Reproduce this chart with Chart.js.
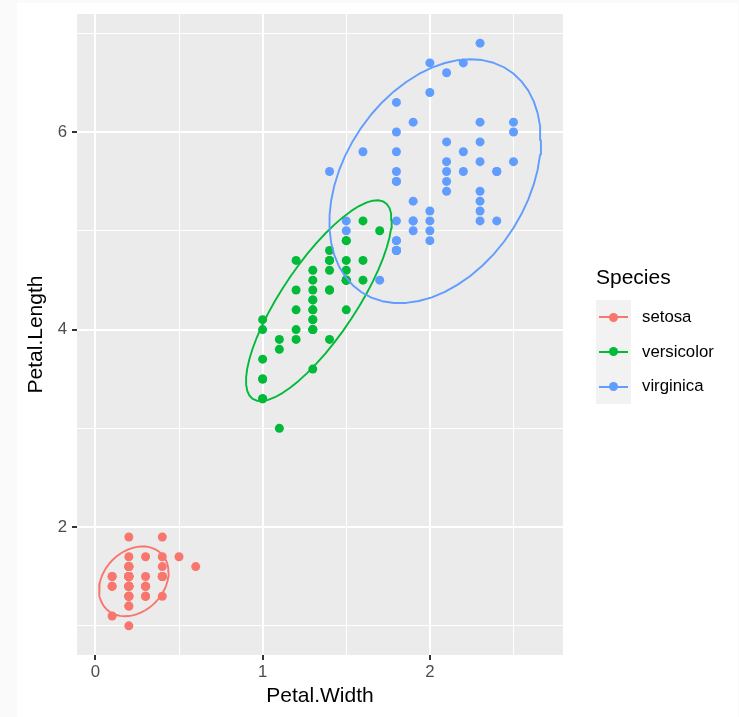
<!DOCTYPE html>
<html>
<head>
<meta charset="utf-8">
<title>Petal.Length vs Petal.Width</title>
<script src="https://cdn.jsdelivr.net/npm/chart.js@4/dist/chart.umd.min.js"></script>
<style>
  html, body { margin: 0; padding: 0; background: #fafafa; width: 739px; height: 717px; overflow: hidden; }
  body { font-family: "Liberation Sans", Arial, sans-serif; }
  #frame { position: absolute; left: 17px; top: 3px; width: 721px; height: 714px; background: #ffffff; }
  #plot { position: absolute; left: 0; top: 0; }
  .ltitle { position: absolute; left: 579px; top: 263px; font-size: 21px; line-height: 21px; color: #000; white-space: nowrap; }
  .keybg { position: absolute; left: 579px; top: 297px; width: 35px; height: 104px; background: #f2f2f2; }
  .row { position: absolute; left: 579px; width: 140px; height: 34.67px; }
  .kline { position: absolute; left: 3px; width: 29px; height: 2px; top: 16.3px; }
  .kdot { position: absolute; left: 13px; top: 12.8px; width: 9px; height: 9px; border-radius: 50%; }
  .klabel { position: absolute; left: 46px; top: 0; line-height: 34.67px; font-size: 16.8px; color: #000; white-space: nowrap; }
</style>
</head>
<body>
<div id="frame">
  <canvas id="plot" width="721" height="714"></canvas>
  <div id="legend"></div>
</div>
<script>
// Species names and their hue colours
const species = ['setosa', 'versicolor', 'virginica'];
const speciesColors = ['#F8766D', '#00BA38', '#619CFF'];

// Petal measurements (cm) for each species
const setosaWidth = [0.2,0.2,0.2,0.2,0.2,0.4,0.3,0.2,0.2,0.1,0.2,0.2,0.1,0.1,0.2,0.4,0.4,0.3,0.3,0.3,0.2,0.4,0.2,0.5,0.2,0.2,0.4,0.2,0.2,0.2,0.2,0.4,0.1,0.2,0.2,0.2,0.2,0.1,0.2,0.2,0.3,0.3,0.2,0.6,0.4,0.3,0.2,0.2,0.2,0.2];
const setosaLength = [1.4,1.4,1.3,1.5,1.4,1.7,1.4,1.5,1.4,1.5,1.5,1.6,1.4,1.1,1.2,1.5,1.3,1.4,1.7,1.5,1.7,1.5,1.0,1.7,1.9,1.6,1.6,1.5,1.4,1.6,1.6,1.5,1.5,1.4,1.5,1.2,1.3,1.4,1.3,1.5,1.3,1.3,1.3,1.6,1.9,1.4,1.6,1.4,1.5,1.4];

const versicolorWidth = [1.4,1.5,1.5,1.3,1.5,1.3,1.6,1.0,1.3,1.4,1.0,1.5,1.0,1.4,1.3,1.4,1.5,1.0,1.5,1.1,1.8,1.3,1.5,1.2,1.3,1.4,1.4,1.7,1.5,1.0,1.1,1.0,1.2,1.6,1.5,1.6,1.5,1.3,1.3,1.3,1.2,1.4,1.2,1.0,1.3,1.2,1.3,1.3,1.1,1.3];
const versicolorLength = [4.7,4.5,4.9,4.0,4.6,4.5,4.7,3.3,4.6,3.9,3.5,4.2,4.0,4.7,3.6,4.4,4.5,4.1,4.5,3.9,4.8,4.0,4.9,4.7,4.3,4.4,4.8,5.0,4.5,3.5,3.8,3.7,3.9,5.1,4.5,4.5,4.7,4.4,4.1,4.0,4.4,4.6,4.0,3.3,4.2,4.2,4.2,4.3,3.0,4.1];

const virginicaWidth = [2.5,1.9,2.1,1.8,2.2,2.1,1.7,1.8,1.8,2.5,2.0,1.9,2.1,2.0,2.4,2.3,1.8,2.2,2.3,1.5,2.3,2.0,2.0,1.8,2.1,1.8,1.8,1.8,2.1,1.6,1.9,2.0,2.2,1.5,1.4,2.3,2.4,1.8,1.8,2.1,2.4,2.3,1.9,2.3,2.5,2.3,1.9,2.0,2.3,1.8];
const virginicaLength = [6.0,5.1,5.9,5.6,5.8,6.6,4.5,6.3,5.8,6.1,5.1,5.3,5.5,5.0,5.1,5.3,5.5,6.7,6.9,5.0,5.7,4.9,6.7,4.9,5.7,6.0,4.8,4.9,5.6,5.8,6.1,6.4,5.6,5.1,5.6,6.1,5.6,5.5,4.8,5.4,5.6,5.1,5.1,5.9,5.7,5.2,5.0,5.2,5.4,5.1];

// Axis breaks
const xBreaks = [0, 1, 2];
const xMinorBreaks = [0.5, 1.5, 2.5];
const yBreaks = [2, 4, 6];
const yMinorBreaks = [1, 3, 5, 7];

const xTitle = 'Petal.Width';
const yTitle = 'Petal.Length';
const legendTitle = 'Species';

const widths = [setosaWidth, versicolorWidth, virginicaWidth];
const lengths = [setosaLength, versicolorLength, virginicaLength];

// Robust multivariate-t location/scatter estimate (nu = 5)
function covTrob(xs, ys) {
  const nu = 5, p = 2, maxit = 25, tol = 0.01, n = xs.length;
  let loc = [xs.reduce((a, b) => a + b, 0) / n, ys.reduce((a, b) => a + b, 0) / n];
  let w = new Array(n).fill(1);
  let X = [];
  for (let iter = 0; iter < maxit; iter++) {
    const w0 = w.slice();
    X = xs.map((x, i) => [x - loc[0], ys[i] - loc[1]]);
    const sw = w.reduce((a, b) => a + b, 0);
    let a = 0, b = 0, c = 0;
    for (let i = 0; i < n; i++) {
      a += w[i] * X[i][0] * X[i][0];
      b += w[i] * X[i][0] * X[i][1];
      c += w[i] * X[i][1] * X[i][1];
    }
    a /= sw; b /= sw; c /= sw;
    const det = a * c - b * b;
    const i00 = c / det, i01 = -b / det, i11 = a / det;
    w = X.map(([u, v]) => (nu + p) / (nu + i00 * u * u + 2 * i01 * u * v + i11 * v * v));
    const sw2 = w.reduce((s, q) => s + q, 0);
    loc = [
      xs.reduce((s, x, i) => s + w[i] * x, 0) / sw2,
      ys.reduce((s, y, i) => s + w[i] * y, 0) / sw2
    ];
    if (w.every((q, i) => Math.abs(q - w0[i]) < tol)) break;
  }
  let a = 0, b = 0, c = 0;
  for (let i = 0; i < n; i++) {
    a += w[i] * X[i][0] * X[i][0];
    b += w[i] * X[i][0] * X[i][1];
    c += w[i] * X[i][1] * X[i][1];
  }
  return { center: loc, cov: [a / n, b / n, c / n] };
}

// 95% confidence ellipse from the robust estimate (51 segments)
function ellipsePath(xs, ys) {
  const level = 0.95, segments = 51;
  const { center, cov } = covTrob(xs, ys);
  const dfd = xs.length - 1;
  const fq = (dfd / 2) * (Math.pow(1 - level, -2 / dfd) - 1); // F(2, dfd) quantile
  const radius = Math.sqrt(2 * fq);
  const r11 = Math.sqrt(cov[0]);
  const r12 = cov[1] / r11;
  const r22 = Math.sqrt(cov[2] - r12 * r12);
  const pts = [];
  for (let k = 0; k <= segments; k++) {
    const t = k * 2 * Math.PI / segments;
    const cx = Math.cos(t), sy = Math.sin(t);
    pts.push({ x: center[0] + radius * cx * r11, y: center[1] + radius * (cx * r12 + sy * r22) });
  }
  return pts;
}

const pointSets = species.map((s, i) => widths[i].map((x, j) => ({ x, y: lengths[i][j] })));
const ellipseSets = species.map((s, i) => ellipsePath(widths[i], lengths[i]));

// Continuous scale limits with 5% expansion
function limits(key) {
  const all = pointSets.flat().concat(ellipseSets.flat()).map(p => p[key]);
  const lo = Math.min(...all), hi = Math.max(...all);
  const pad = (hi - lo) * 0.05;
  return [lo - pad, hi + pad];
}
const [xMin, xMax] = limits('x');
const [yMin, yMax] = limits('y');

const datasets = [];
// ellipses on top, then points (later rows drawn over earlier ones)
for (let i = species.length - 1; i >= 0; i--) {
  datasets.push({
    label: species[i] + ' ellipse',
    data: ellipseSets[i],
    showLine: true,
    fill: false,
    tension: 0,
    borderColor: speciesColors[i],
    borderWidth: 1.9,
    pointRadius: 0,
    borderJoinStyle: 'round',
    borderCapStyle: 'round'
  });
}
for (let i = species.length - 1; i >= 0; i--) {
  datasets.push({
    label: species[i],
    data: pointSets[i],
    showLine: false,
    backgroundColor: speciesColors[i],
    borderColor: speciesColors[i],
    pointRadius: 4.5,
    pointBorderWidth: 0,
    pointHoverRadius: 4.5
  });
}

const FONT = '"Liberation Sans", Arial, sans-serif';
const isMajor = (breaks, v) => breaks.some(b => Math.abs(b - v) < 1e-9);

function axisOptions(breaks, minor, min, max, title, tickPad, titlePad) {
  const all = breaks.concat(minor).sort((a, b) => a - b);
  return {
    type: 'linear',
    min, max,
    afterBuildTicks: s => { s.ticks = all.map(v => ({ value: v })); },
    ticks: {
      autoSkip: false,
      maxRotation: 0,
      padding: tickPad,
      color: '#4D4D4D',
      font: { family: FONT, size: 16.8 },
      callback: v => isMajor(breaks, v) ? String(v) : ''
    },
    grid: {
      color: '#ffffff',
      lineWidth: c => (c.tick && isMajor(breaks, c.tick.value)) ? 2 : 1,
      drawTicks: true,
      tickLength: 5,
      tickWidth: 2,
      tickColor: c => (c.tick && isMajor(breaks, c.tick.value)) ? '#333333' : 'rgba(0,0,0,0)'
    },
    border: { display: false },
    title: {
      display: true,
      text: title,
      color: '#000000',
      font: { family: FONT, size: 21 },
      padding: titlePad
    }
  };
}

const panelBackground = {
  id: 'panelBackground',
  beforeDraw(chart) {
    const { ctx, chartArea: a } = chart;
    ctx.save();
    ctx.fillStyle = '#EBEBEB';
    ctx.fillRect(a.left, a.top, a.right - a.left, a.bottom - a.top);
    ctx.restore();
  }
};

const xAxis = axisOptions(xBreaks, xMinorBreaks, xMin, xMax, xTitle, 2, { top: 0, bottom: 7.7 });
xAxis.position = 'bottom';
xAxis.afterFit = s => { s.height = 62; s.paddingLeft = 0; s.paddingRight = 0; };
const yAxis = axisOptions(yBreaks, yMinorBreaks, yMin, yMax, yTitle, 5, { top: 7.1, bottom: 0 });
yAxis.position = 'left';
yAxis.afterFit = s => { s.width = 60; s.paddingTop = 0; s.paddingBottom = 0; };

new Chart(document.getElementById('plot'), {
  type: 'scatter',
  data: { datasets },
  options: {
    responsive: false,
    animation: false,
    devicePixelRatio: 1,
    events: [],
    layout: { padding: { left: 0, top: 11, right: 175, bottom: 0 } },
    plugins: { legend: { display: false }, tooltip: { enabled: false } },
    scales: { x: xAxis, y: yAxis }
  },
  plugins: [panelBackground]
});

// Legend: title, shared key background, one row per species
const legend = document.getElementById('legend');
const t = document.createElement('div');
t.className = 'ltitle';
t.textContent = legendTitle;
legend.appendChild(t);
const bg = document.createElement('div');
bg.className = 'keybg';
legend.appendChild(bg);
species.forEach((s, i) => {
  const row = document.createElement('div');
  row.className = 'row';
  row.style.top = (297 + i * 34.67) + 'px';
  const line = document.createElement('div');
  line.className = 'kline';
  line.style.background = speciesColors[i];
  const dot = document.createElement('div');
  dot.className = 'kdot';
  dot.style.background = speciesColors[i];
  const lab = document.createElement('div');
  lab.className = 'klabel';
  lab.textContent = s;
  row.appendChild(line);
  row.appendChild(dot);
  row.appendChild(lab);
  legend.appendChild(row);
});
</script>
</body>
</html>
